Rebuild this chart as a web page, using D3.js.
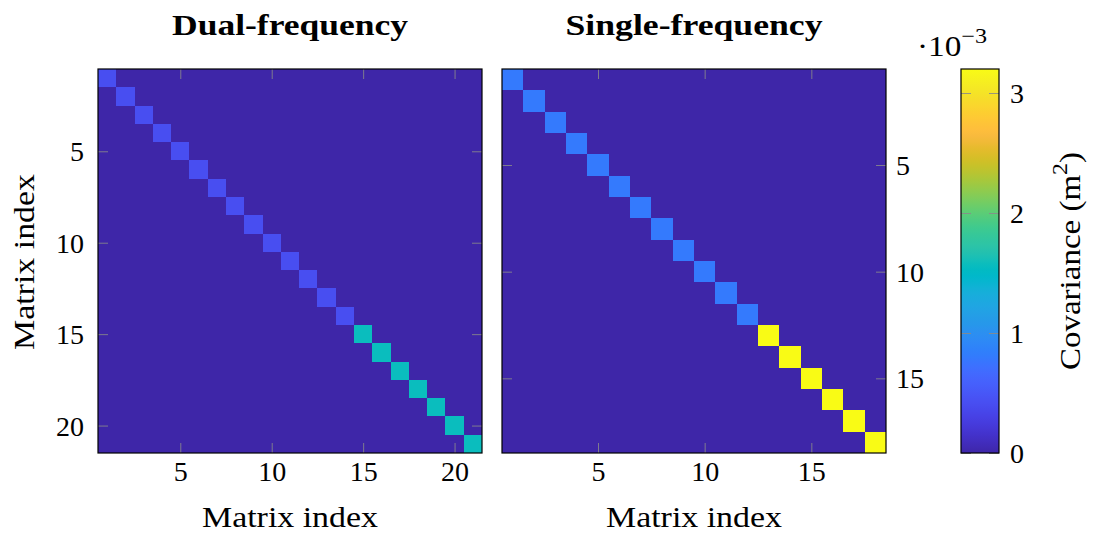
<!DOCTYPE html>
<html>
<head>
<meta charset="utf-8">
<script src="https://cdn.jsdelivr.net/npm/d3@7"></script>
<style>
  html, body { margin: 0; padding: 0; background: #fff; }
  svg { display: block; }
  text { font-family: "Liberation Serif", "DejaVu Serif", serif; fill: #000; }
</style>
</head>
<body>
<svg id="chart" width="1094" height="533"></svg>
<script>
// Diagonal variances (m^2) of the two covariance matrices; off-diagonal terms are zero.
const dualDiag = [
  0.42e-3, 0.42e-3, 0.42e-3, 0.42e-3, 0.42e-3, 0.42e-3, 0.42e-3,
  0.42e-3, 0.42e-3, 0.42e-3, 0.42e-3, 0.42e-3, 0.42e-3, 0.42e-3,
  1.57e-3, 1.57e-3, 1.57e-3, 1.57e-3, 1.57e-3, 1.57e-3, 1.57e-3
];
const singleDiag = [
  0.80e-3, 0.80e-3, 0.80e-3, 0.80e-3, 0.80e-3, 0.80e-3,
  0.80e-3, 0.80e-3, 0.80e-3, 0.80e-3, 0.80e-3, 0.80e-3,
  3.20e-3, 3.20e-3, 3.20e-3, 3.20e-3, 3.20e-3, 3.20e-3
];
const panelTitles = ["Dual-frequency", "Single-frequency"];
const dualTicks = [5, 10, 15, 20];
const singleTicks = [5, 10, 15];
const colorTicks = [0, 1e-3, 2e-3, 3e-3];
const colorTickLabels = ["0", "1", "2", "3"];
const colorMin = 0, colorMax = 3.2e-3;

// Parula colour map (64 entries)
const parula = [
  [0.2422,0.1504,0.6603],[0.2504,0.1650,0.7076],[0.2578,0.1818,0.7511],[0.2647,0.1978,0.7952],
  [0.2706,0.2147,0.8364],[0.2751,0.2342,0.8710],[0.2783,0.2559,0.8991],[0.2803,0.2782,0.9221],
  [0.2813,0.3006,0.9414],[0.2810,0.3228,0.9579],[0.2795,0.3447,0.9717],[0.2760,0.3667,0.9829],
  [0.2699,0.3892,0.9906],[0.2602,0.4123,0.9952],[0.2440,0.4358,0.9988],[0.2206,0.4603,0.9973],
  [0.1963,0.4847,0.9892],[0.1834,0.5074,0.9798],[0.1786,0.5289,0.9682],[0.1764,0.5499,0.9520],
  [0.1687,0.5703,0.9359],[0.1540,0.5902,0.9218],[0.1460,0.6091,0.9079],[0.1380,0.6276,0.8973],
  [0.1248,0.6459,0.8883],[0.1113,0.6635,0.8763],[0.0952,0.6798,0.8598],[0.0689,0.6948,0.8394],
  [0.0297,0.7082,0.8163],[0.0036,0.7203,0.7917],[0.0067,0.7312,0.7660],[0.0433,0.7411,0.7394],
  [0.0964,0.7500,0.7120],[0.1408,0.7584,0.6842],[0.1717,0.7670,0.6554],[0.1938,0.7758,0.6251],
  [0.2161,0.7843,0.5923],[0.2470,0.7918,0.5567],[0.2906,0.7973,0.5188],[0.3406,0.8008,0.4789],
  [0.3909,0.8029,0.4354],[0.4456,0.8024,0.3909],[0.5044,0.7993,0.3480],[0.5616,0.7942,0.3045],
  [0.6174,0.7876,0.2612],[0.6720,0.7793,0.2227],[0.7242,0.7698,0.1910],[0.7738,0.7598,0.1646],
  [0.8203,0.7498,0.1535],[0.8634,0.7406,0.1596],[0.9035,0.7330,0.1774],[0.9393,0.7288,0.2100],
  [0.9728,0.7298,0.2394],[0.9956,0.7434,0.2371],[0.9970,0.7659,0.2199],[0.9952,0.7893,0.2028],
  [0.9892,0.8136,0.1885],[0.9786,0.8386,0.1766],[0.9676,0.8639,0.1643],[0.9610,0.8890,0.1537],
  [0.9597,0.9135,0.1423],[0.9628,0.9373,0.1265],[0.9691,0.9606,0.1064],[0.9769,0.9839,0.0805]
];
const parulaColors = parula.map(c => d3.rgb(c[0] * 255, c[1] * 255, c[2] * 255).formatHex());
const color = d3.scaleLinear()
  .domain(parulaColors.map((_, i) => colorMin + (colorMax - colorMin) * i / (parulaColors.length - 1)))
  .range(parulaColors)
  .interpolate(d3.interpolateRgb)
  .clamp(true);

const svg = d3.select("#chart");
const tickStroke = "#8a8a8a";
const side = 384;
const plotTop = 69;
const panels = [
  { diag: dualDiag, ticks: dualTicks, x0: 98, yLabelsSide: "left", title: panelTitles[0], titleLen: 236 },
  { diag: singleDiag, ticks: singleTicks, x0: 502, yLabelsSide: "right", title: panelTitles[1], titleLen: 257 }
];

function styleAxis(g, showLabels) {
  g.select(".domain").remove();
  g.selectAll(".tick line").attr("stroke", tickStroke).attr("stroke-width", 1).attr("stroke-opacity", 0.85);
  g.selectAll(".tick text")
    .style("font-family", '"Liberation Serif", serif')
    .style("font-size", "28px")
    .attr("fill", "#000")
    .style("display", showLabels ? null : "none");
}

panels.forEach(p => {
  const n = p.diag.length;
  const idx = d3.range(1, n + 1);
  const cells = [];
  idx.forEach(r => idx.forEach(c => cells.push({ r, c, v: r === c ? p.diag[r - 1] : 0 })));

  const x = d3.scaleLinear().domain([0.5, n + 0.5]).range([p.x0, p.x0 + side]);
  const y = d3.scaleLinear().domain([0.5, n + 0.5]).range([plotTop, plotTop + side]);

  const g = svg.append("g");
  g.selectAll("rect.cell").data(cells).join("rect")
    .attr("class", "cell")
    .attr("x", d => x(d.c - 0.5))
    .attr("y", d => y(d.r - 0.5))
    .attr("width", d => x(d.c + 0.5) - x(d.c - 0.5) + 0.3)
    .attr("height", d => y(d.r + 0.5) - y(d.r - 0.5) + 0.3)
    .attr("fill", d => color(d.v))
    .attr("shape-rendering", "crispEdges");

  // inward ticks on all four sides
  const bottom = g.append("g").attr("transform", `translate(0,${plotTop + side})`)
    .call(d3.axisBottom(x).tickValues(p.ticks).tickFormat(d3.format("d")).tickSizeInner(-10).tickSizeOuter(0).tickPadding(8));
  styleAxis(bottom, true);
  const topAx = g.append("g").attr("transform", `translate(0,${plotTop})`)
    .call(d3.axisTop(x).tickValues(p.ticks).tickSizeInner(-10).tickSizeOuter(0));
  styleAxis(topAx, false);
  const leftAx = g.append("g").attr("transform", `translate(${p.x0},0)`)
    .call(d3.axisLeft(y).tickValues(p.ticks).tickFormat(d3.format("d")).tickSizeInner(-10).tickSizeOuter(0).tickPadding(14));
  styleAxis(leftAx, p.yLabelsSide === "left");
  const rightAx = g.append("g").attr("transform", `translate(${p.x0 + side},0)`)
    .call(d3.axisRight(y).tickValues(p.ticks).tickFormat(d3.format("d")).tickSizeInner(-10).tickSizeOuter(0).tickPadding(10));
  styleAxis(rightAx, p.yLabelsSide === "right");
  [leftAx, rightAx].forEach(a => a.selectAll(".tick text").attr("dy", "0.34em"));

  g.append("rect")
    .attr("x", p.x0).attr("y", plotTop).attr("width", side).attr("height", side)
    .attr("fill", "none").attr("stroke", "#000").attr("stroke-width", 1.2);

  // panel title
  g.append("text")
    .attr("x", p.x0 + side / 2).attr("y", 35)
    .attr("text-anchor", "middle")
    .attr("font-size", 30).attr("font-weight", "bold")
    .attr("textLength", p.titleLen).attr("lengthAdjust", "spacingAndGlyphs")
    .text(p.title);

  // x axis label
  g.append("text")
    .attr("x", p.x0 + side / 2).attr("y", 527)
    .attr("text-anchor", "middle")
    .attr("font-size", 29)
    .attr("textLength", 176).attr("lengthAdjust", "spacingAndGlyphs")
    .text("Matrix index");
});

// y axis label of the left panel
svg.append("text")
  .attr("transform", "translate(34,262) rotate(-90)")
  .attr("text-anchor", "middle")
  .attr("font-size", 29)
  .attr("textLength", 176).attr("lengthAdjust", "spacingAndGlyphs")
  .text("Matrix index");

// colour bar
const cb = { x: 961, w: 38 };
const cy = d3.scaleLinear().domain([colorMin, colorMax]).range([plotTop + side, plotTop]);
const grad = svg.append("defs").append("linearGradient")
  .attr("id", "cbGrad").attr("x1", 0).attr("y1", 1).attr("x2", 0).attr("y2", 0);
grad.selectAll("stop").data(color.domain()).join("stop")
  .attr("offset", d => (d - colorMin) / (colorMax - colorMin))
  .attr("stop-color", d => color(d));
svg.append("rect")
  .attr("x", cb.x).attr("y", cy(colorMax)).attr("width", cb.w).attr("height", cy(colorMin) - cy(colorMax))
  .attr("fill", "url(#cbGrad)");
const cbRight = svg.append("g").attr("transform", `translate(${cb.x + cb.w},0)`)
  .call(d3.axisRight(cy).tickValues(colorTicks).tickFormat((d, i) => colorTickLabels[i]).tickSizeInner(-10).tickSizeOuter(0).tickPadding(11));
styleAxis(cbRight, true);
cbRight.selectAll(".tick text").attr("dy", "0.34em");
const cbLeft = svg.append("g").attr("transform", `translate(${cb.x},0)`)
  .call(d3.axisLeft(cy).tickValues(colorTicks).tickSizeInner(-10).tickSizeOuter(0));
styleAxis(cbLeft, false);
svg.append("rect")
  .attr("x", cb.x).attr("y", cy(colorMax)).attr("width", cb.w).attr("height", cy(colorMin) - cy(colorMax))
  .attr("fill", "none").attr("stroke", "#000").attr("stroke-width", 1.2);

// scale factor above the colour bar
const sf = svg.append("text").attr("x", 917).attr("y", 56).attr("font-size", 29)
  .attr("textLength", 70).attr("lengthAdjust", "spacingAndGlyphs");
sf.append("tspan").text("·10");
sf.append("tspan").attr("font-size", 21).attr("dy", -13).text("−3");

// colour bar label
const cl = svg.append("text")
  .attr("transform", "translate(1080,261) rotate(-90)")
  .attr("text-anchor", "middle")
  .attr("font-size", 29)
  .attr("textLength", 218).attr("lengthAdjust", "spacingAndGlyphs");
cl.append("tspan").text("Covariance (m");
cl.append("tspan").attr("font-size", 21).attr("dy", -13).text("2");
cl.append("tspan").attr("dy", 13).text(")");
</script>
</body>
</html>
